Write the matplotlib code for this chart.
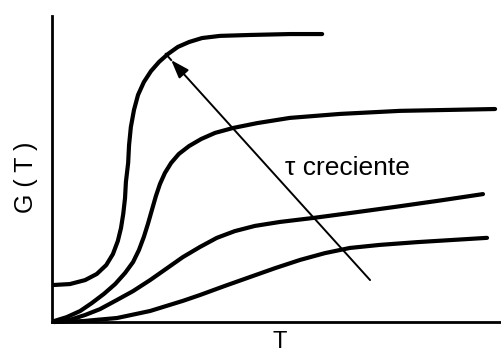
import matplotlib
matplotlib.use("Agg")
import matplotlib.pyplot as plt

plt.rcParams['font.family'] = ['Liberation Sans', 'DejaVu Sans']

# G(T) curves for increasing tau (top curve = smallest tau)
t1 = [0.045, 0.40, 0.74, 1.00, 1.21, 1.36, 1.47, 1.54, 1.59, 1.63, 1.65, 1.70,
      1.72, 1.76, 1.83, 1.92, 2.05, 2.21, 2.39, 2.59, 2.81, 3.06, 3.35, 3.75,
      4.42, 5.31, 6.03]
g1 = [1.21, 1.24, 1.37, 1.57, 1.86, 2.22, 2.65, 3.07, 3.53, 4.05, 4.58, 5.20,
      5.78, 6.37, 6.93, 7.42, 7.84, 8.20, 8.50, 8.76, 8.99, 9.15, 9.28, 9.35,
      9.38, 9.41, 9.41]

t2 = [0.045, 0.33, 0.63, 0.89, 1.16, 1.41, 1.63, 1.81, 1.94, 2.05, 2.14, 2.23,
      2.32, 2.41, 2.52, 2.66, 2.83, 3.06, 3.33, 3.64, 4.04, 4.58, 5.31, 6.43,
      7.77, 9.89]
g2 = [0.03, 0.16, 0.36, 0.62, 0.92, 1.24, 1.60, 1.96, 2.35, 2.78, 3.20, 3.66,
      4.12, 4.51, 4.87, 5.20, 5.49, 5.75, 5.98, 6.18, 6.34, 6.50, 6.67, 6.80,
      6.90, 6.96]

t3 = [0.045, 0.40, 0.74, 1.07, 1.45, 1.81, 2.19, 2.57, 2.92, 3.30, 3.68, 4.08,
      4.53, 5.09, 5.83, 6.65, 7.70, 8.66, 9.62]
g3 = [0.00, 0.07, 0.23, 0.42, 0.72, 1.01, 1.37, 1.76, 2.12, 2.45, 2.75, 2.97,
      3.14, 3.27, 3.40, 3.56, 3.77, 3.97, 4.18]

t4 = [0.045, 0.69, 1.45, 2.19, 2.92, 3.30, 3.86, 4.42, 4.98, 5.54, 6.09, 6.65,
      7.32, 8.15, 9.71]
g4 = [0.00, 0.03, 0.13, 0.36, 0.69, 0.88, 1.18, 1.47, 1.76, 2.03, 2.25, 2.42,
      2.52, 2.61, 2.75]

# Arrow showing the direction of increasing tau
arrow_tail = (7.10, 1.37)
arrow_head = (2.66, 8.56)
arrow_end = (2.54, 8.76)

fig = plt.figure(figsize=(5.01, 3.54), dpi=100)
ax = fig.add_axes([52 / 501, 32 / 354, 448 / 501, 306 / 354])
ax.set_xlim(0, 10)
ax.set_ylim(0, 10)

for t, g in [(t1, g1), (t2, g2), (t3, g3), (t4, g4)]:
    ax.plot(t, g, color='black', lw=3.0, solid_capstyle='round',
            solid_joinstyle='round', clip_on=False)

ax.annotate('', xy=arrow_head, xytext=arrow_tail,
            arrowprops=dict(arrowstyle='-|>,head_length=0.8,head_width=0.28',
                            mutation_scale=14, color='black', lw=1.4,
                            shrinkA=0, shrinkB=0))
ax.plot([arrow_head[0], arrow_end[0]], [arrow_head[1], arrow_end[1]],
        color='black', lw=1.4)

ax.text(5.20, 5.03, 'τ creciente', fontsize=19, ha='left', va='center')

for side in ['top', 'right']:
    ax.spines[side].set_visible(False)
for side in ['left', 'bottom']:
    ax.spines[side].set_linewidth(2.0)
ax.set_xticks([])
ax.set_yticks([])

fig.text(26 / 501, 1 - 177 / 354, 'G ( T )', fontsize=18, rotation=90,
         ha='center', va='center')
fig.text(280 / 501, 1 - 331 / 354, 'T', fontsize=17, ha='center', va='top')

fig.savefig('out.png', dpi=100)
